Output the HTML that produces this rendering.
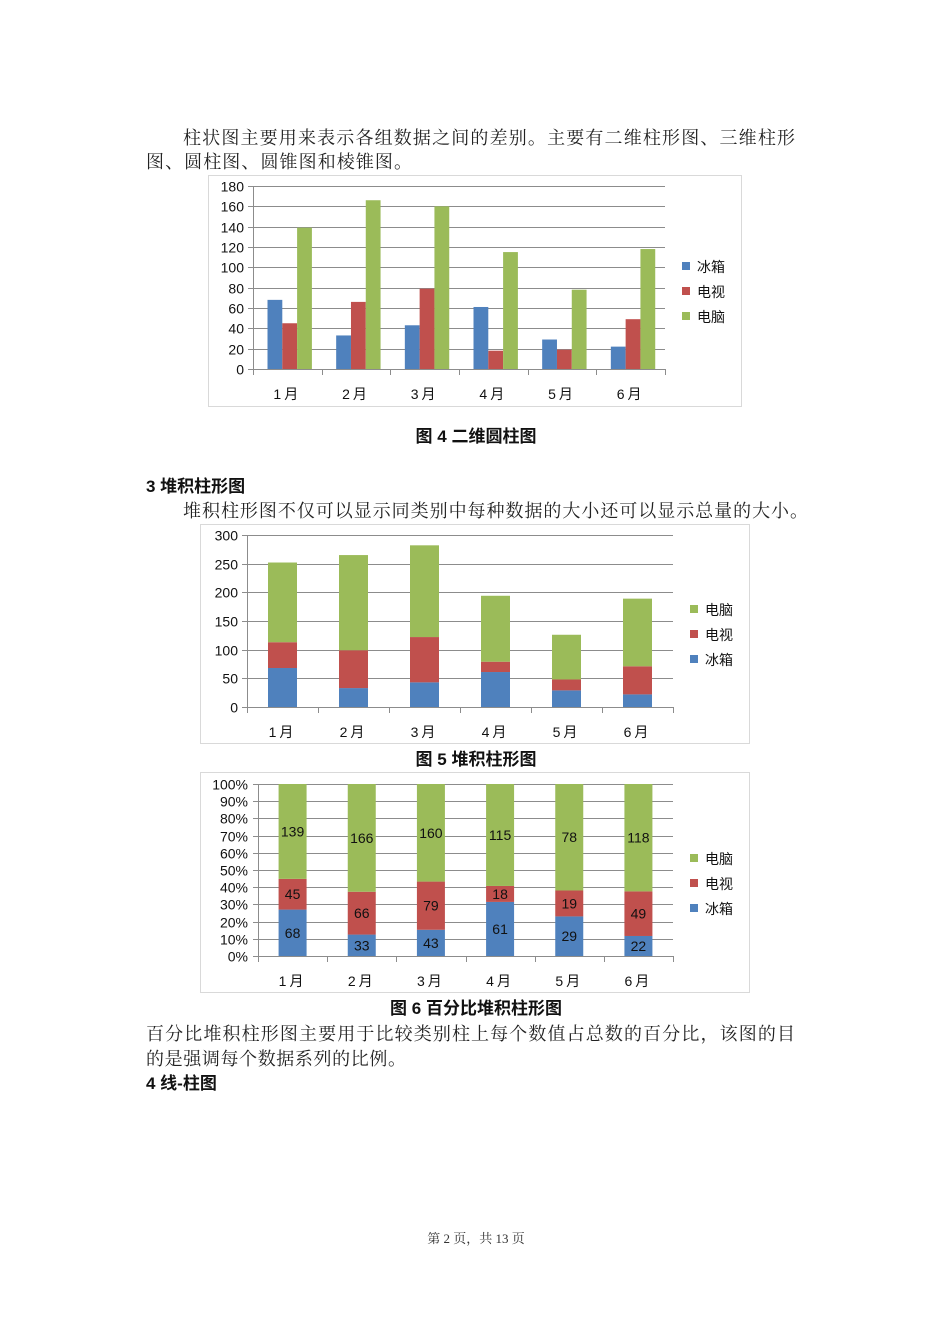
<!DOCTYPE html>
<html><head><meta charset="utf-8">
<style>
html,body{margin:0;padding:0;background:#fff;}
svg{display:block;}
.s{font-family:"Liberation Serif","Noto Serif CJK SC",serif;font-size:18px;fill:#222;}
.b{font-family:"Liberation Sans","Noto Sans CJK SC",sans-serif;font-size:17px;font-weight:bold;fill:#111;}
.a{font-family:"Liberation Sans","Noto Sans CJK SC",sans-serif;font-size:14px;fill:#111;}
</style></head><body>
<svg id="g" width="950" height="1344" xmlns="http://www.w3.org/2000/svg">
<text class="s" x="183" y="144" textLength="612">柱状图主要用来表示各组数据之间的差别。主要有二维柱形图、三维柱形</text>
<text class="s" x="146" y="168" textLength="266">图、圆柱图、圆锥图和棱锥图。</text>
<rect x="208.5" y="175.5" width="533" height="231" fill="none" stroke="#d9d9d9"/>
<text class="b" x="476" y="442" text-anchor="middle">图 4 二维圆柱图</text>
<text class="b" x="146" y="492">3 堆积柱形图</text>
<text class="s" x="183" y="517" textLength="625">堆积柱形图不仅可以显示同类别中每种数据的大小还可以显示总量的大小。</text>
<rect x="200.5" y="524.5" width="549" height="219" fill="none" stroke="#d9d9d9"/>
<text class="b" x="476" y="765" text-anchor="middle">图 5 堆积柱形图</text>
<rect x="200.5" y="772.5" width="549" height="220" fill="none" stroke="#d9d9d9"/>
<text class="b" x="476" y="1014" text-anchor="middle">图 6 百分比堆积柱形图</text>
<text class="s" x="146" y="1040" textLength="649">百分比堆积柱形图主要用于比较类别柱上每个数值占总数的百分比，该图的目</text>
<text class="s" x="146" y="1065" textLength="260">的是强调每个数据系列的比例。</text>
<text class="b" x="146" y="1089">4 线-柱图</text>
<text x="476" y="1243" text-anchor="middle" style="font-family:'Liberation Serif','Noto Serif CJK SC',serif;font-size:13px;fill:#333">第 2 页，共 13 页</text>
</svg>
<script>
var g=document.getElementById('g'),NS='http://www.w3.org/2000/svg';
function el(t,a,txt){var e=document.createElementNS(NS,t);for(var k in a)e.setAttribute(k,a[k]);if(txt!=null)e.textContent=txt;g.appendChild(e);return e;}
var B='#4F81BD',R='#C0504D',G='#9BBB59';
var ice=[68,33,43,61,29,22],tv=[45,66,79,18,19,49],pc=[139,166,160,115,78,118];
var M=['1月','2月','3月','4月','5月','6月'];
function axes(x0,x1,y0,step,n,pxPer,lab,lx,fs){
 for(var i=0;i<=n;i++){var y=Math.round(y0-i*step*pxPer)+0.5;
  el('line',{x1:x0-5,x2:x1,y1:y,y2:y,stroke:'#8c8c8c','stroke-width':1});
  el('text',{x:lx,y:y+5,'text-anchor':'end',class:'a','font-size':fs},lab(i*step));}
 el('line',{x1:x0+0.5,x2:x0+0.5,y1:y0-n*step*pxPer,y2:y0,stroke:'#8c8c8c'});
 var cw=(x1-x0)/6;
 for(var i=0;i<=6;i++){var x=Math.round(x0+i*cw)+0.5;el('line',{x1:x,x2:x,y1:y0,y2:y0+6,stroke:'#8c8c8c'});}
 return cw;}
function months(x0,cw,y){for(var i=0;i<6;i++)el('text',{x:x0+cw*(i+0.5),y:y,'text-anchor':'middle',class:'a','font-size':16,'letter-spacing':'3'},M[i]);}
function legend(x,ys,cols,names){for(var i=0;i<3;i++){el('rect',{x:x,y:ys[i]-4,width:8,height:8,fill:cols[i]});el('text',{x:x+15,y:ys[i]+6,class:'a','font-size':17},names[i]);}}
var x0=253,x1=665,y0=369,p=183/180;
var cw=axes(x0,x1,y0,20,9,p,function(v){return v;},244,14.5);
for(var i=0;i<6;i++){var bx=x0+cw*i+14.5;[ice[i],tv[i],pc[i]].forEach(function(v,j){el('rect',{x:bx+j*14.8,y:y0-v*p,width:14.8,height:v*p,fill:[B,R,G][j]});});}
months(x0,cw,399);
legend(682,[266,291,316],[B,R,G],['冰箱','电视','电脑']);
x0=247;x1=673;y0=707;p=172/300;
cw=axes(x0,x1,y0,50,6,p,function(v){return v;},238,14.5);
for(var i=0;i<6;i++){var bx=x0+cw*i+cw/2-14.5,acc=0;[ice[i],tv[i],pc[i]].forEach(function(v,j){el('rect',{x:bx,y:y0-(acc+v)*p,width:29,height:v*p,fill:[B,R,G][j]});acc+=v;});}
months(x0,cw,737);
legend(690,[609,634,659],[G,R,B],['电脑','电视','冰箱']);
x0=258;x1=673;y0=956;p=1.72;
cw=axes(x0,x1,y0,10,10,p,function(v){return v+'%';},248,13.5);
for(var i=0;i<6;i++){var bx=x0+cw*i+cw/2-14,t=ice[i]+tv[i]+pc[i],acc=0;[ice[i],tv[i],pc[i]].forEach(function(v,j){var pc_=v/t*100;var yt=y0-(acc+pc_)*p,h=pc_*p;el('rect',{x:bx,y:yt,width:28,height:h,fill:[B,R,G][j]});el('text',{x:bx+14,y:yt+h/2+5,'text-anchor':'middle',class:'a','font-size':14.5},v);acc+=pc_;});}
months(x0,cw,986);
legend(690,[858,883,908],[G,R,B],['电脑','电视','冰箱']);
</script>
</body></html>
